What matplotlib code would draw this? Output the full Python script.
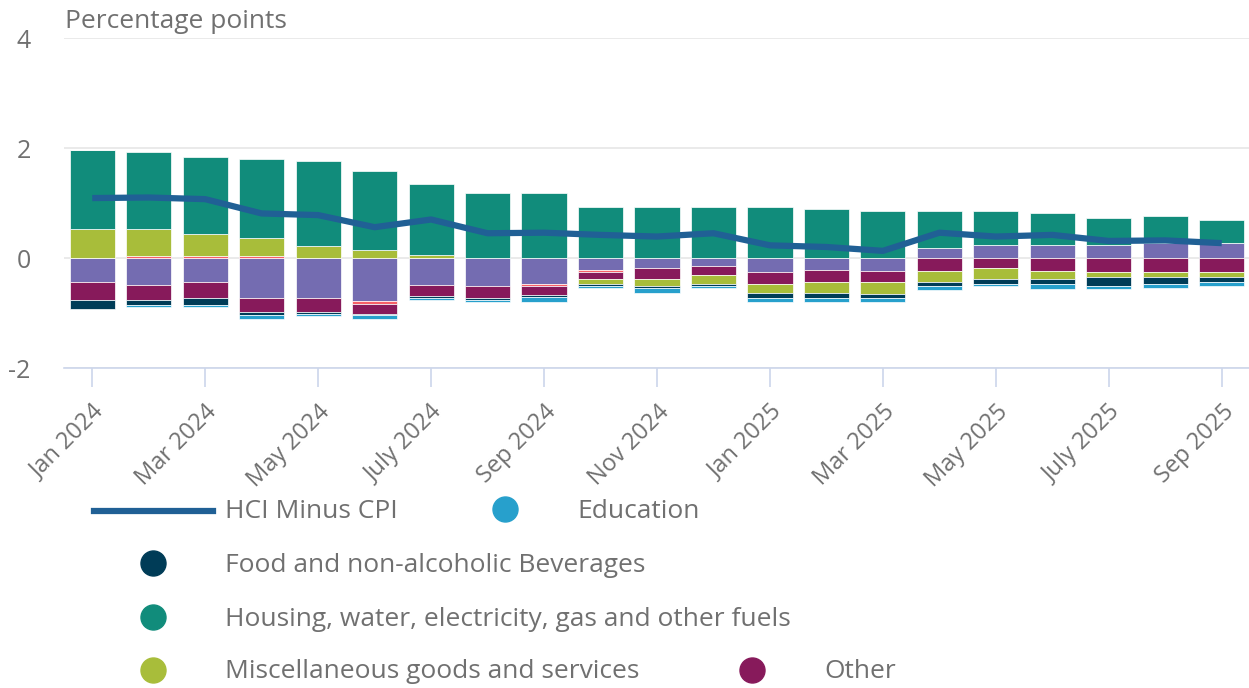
import numpy as np
import matplotlib
matplotlib.use("Agg")
import matplotlib.pyplot as plt
from matplotlib.lines import Line2D

plt.rcParams['font.family'] = ['Open Sans', 'DejaVu Sans']

months = ["Jan 2024", "Feb 2024", "Mar 2024", "Apr 2024", "May 2024", "Jun 2024",
          "July 2024", "Aug 2024", "Sep 2024", "Oct 2024", "Nov 2024", "Dec 2024",
          "Jan 2025", "Feb 2025", "Mar 2025", "Apr 2025", "May 2025", "Jun 2025",
          "July 2025", "Aug 2025", "Sep 2025"]

hci_minus_cpi = [1.09, 1.10, 1.07, 0.81, 0.78, 0.56, 0.70, 0.45, 0.46, 0.42, 0.39,
                 0.45, 0.23, 0.20, 0.13, 0.46, 0.39, 0.42, 0.31, 0.32, 0.27]

education = [0.00, -0.04, -0.04, -0.06, -0.05, -0.06, -0.05, -0.04, -0.09, -0.04, -0.10,
             -0.04, -0.08, -0.08, -0.08, -0.08, -0.04, -0.09, -0.05, -0.08, -0.08]
food = [-0.16, -0.08, -0.13, -0.06, -0.03, -0.02, -0.03, -0.04, -0.03, -0.04, -0.03,
        -0.04, -0.08, -0.08, -0.07, -0.08, -0.08, -0.08, -0.16, -0.12, -0.08]
housing = [1.45, 1.41, 1.40, 1.44, 1.54, 1.45, 1.29, 1.19, 1.19, 0.93, 0.93,
           0.93, 0.93, 0.89, 0.85, 0.66, 0.61, 0.57, 0.49, 0.50, 0.41]
misc = [0.52, 0.48, 0.40, 0.32, 0.22, 0.14, 0.06, 0.00, 0.00, -0.08, -0.12,
        -0.17, -0.17, -0.21, -0.22, -0.20, -0.20, -0.16, -0.09, -0.09, -0.09]
other = [-0.33, -0.28, -0.28, -0.25, -0.25, -0.19, -0.20, -0.21, -0.17, -0.13, -0.21,
         -0.15, -0.21, -0.21, -0.20, -0.23, -0.19, -0.23, -0.26, -0.26, -0.26]
pink_series = [0.00, 0.04, 0.04, 0.04, 0.00, -0.05, 0.00, 0.00, -0.04, -0.04, 0.00,
               0.00, 0.00, 0.00, 0.00, 0.00, 0.00, 0.00, 0.00, 0.00, 0.00]
purple_series = [-0.44, -0.49, -0.44, -0.73, -0.73, -0.78, -0.49, -0.51, -0.47, -0.22, -0.18,
                 -0.15, -0.26, -0.22, -0.23, 0.19, 0.24, 0.24, 0.24, 0.27, 0.28]

tick_labels = ["Jan 2024", "Mar 2024", "May 2024", "July 2024", "Sep 2024", "Nov 2024",
               "Jan 2025", "Mar 2025", "May 2025", "July 2025", "Sep 2025"]

TEXT = "#707070"
C_EDU = "#27A0CC"
C_FOOD = "#003C57"
C_HOUS = "#118C7B"
C_MISC = "#A8BD3A"
C_OTHER = "#871A5B"
C_PINK = "#F66068"
C_PURPLE = "#746CB1"
C_LINE = "#206095"

W, H = 1249, 688
fig = plt.figure(figsize=(W / 100, H / 100), dpi=100)
left, right = 64 / W, 1250 / W
bottom, top = 1 - 368 / H, 1 - 38 / H
ax = fig.add_axes([left, bottom, right - left, top - bottom])

x = np.arange(len(months))
# stacking order from zero outward
stack = [(purple_series, C_PURPLE), (pink_series, C_PINK), (other, C_OTHER),
         (misc, C_MISC), (housing, C_HOUS), (food, C_FOOD), (education, C_EDU)]
pos = np.zeros(len(x))
neg = np.zeros(len(x))
for vals, col in stack:
    v = np.array(vals, dtype=float)
    b = np.where(v >= 0, pos, neg)
    ax.bar(x, v, bottom=b, width=0.8, color=col, edgecolor="white", linewidth=0.5, zorder=2)
    pos = pos + np.where(v >= 0, v, 0)
    neg = neg + np.where(v < 0, v, 0)

ax.plot(x, hci_minus_cpi, color=C_LINE, linewidth=4.5, zorder=3, solid_capstyle="butt")

ax.set_xlim(-0.5, len(x) - 0.5)
ax.set_ylim(-2, 4)
ax.set_yticks([-2, 0, 2, 4])
ax.set_yticklabels(["-2", "0", "2", "4"])
ax.yaxis.grid(True, color="#e6e6e6", linewidth=1.2, zorder=0)
ax.set_axisbelow(True)
for s in ["top", "right", "left"]:
    ax.spines[s].set_visible(False)
ax.spines["bottom"].set_color("#ccd6eb")
ax.spines["bottom"].set_linewidth(1.2)
ax.spines["bottom"].set_zorder(1)
ax.tick_params(axis="y", length=0, pad=24, labelsize=18, labelcolor=TEXT)
for lbl in ax.get_yticklabels():
    lbl.set_verticalalignment("center_baseline")
ax.set_xticks(x[::2])
ax.set_xticklabels(tick_labels, rotation=45, ha="right", rotation_mode="anchor",
                   fontsize=17, color=TEXT)
ax.tick_params(axis="x", length=14, width=1.2, color="#ccd6eb", pad=9)

fig.text(65 / W, 1 - 22 / H, "Percentage points", fontsize=19, color=TEXT, va="center", ha="left")

# legend (manual, flowed like the original)
def leg_text(px, py, s):
    fig.text(px / W, 1 - py / H, s, fontsize=19, color=TEXT, va="center", ha="left")

def leg_dot(px, py, col):
    fig.add_artist(Line2D([px / W], [1 - py / H], marker="o", markersize=18, color=col,
                          linestyle="none", transform=fig.transFigure))

fig.add_artist(Line2D([94 / W, 213 / W], [1 - 511 / H, 1 - 511 / H], color=C_LINE,
                      linewidth=4.5, transform=fig.transFigure))
leg_text(225, 511, "HCI Minus CPI")
leg_dot(505, 509, C_EDU)
leg_text(577, 511, "Education")
leg_dot(153, 563, C_FOOD)
leg_text(225, 565, "Food and non-alcoholic Beverages")
leg_dot(153, 617, C_HOUS)
leg_text(225, 619, "Housing, water, electricity, gas and other fuels")
leg_dot(153, 670, C_MISC)
leg_text(225, 672, "Miscellaneous goods and services")
leg_dot(752, 670, C_OTHER)
leg_text(824, 672, "Other")

fig.savefig("out.png", dpi=100)
